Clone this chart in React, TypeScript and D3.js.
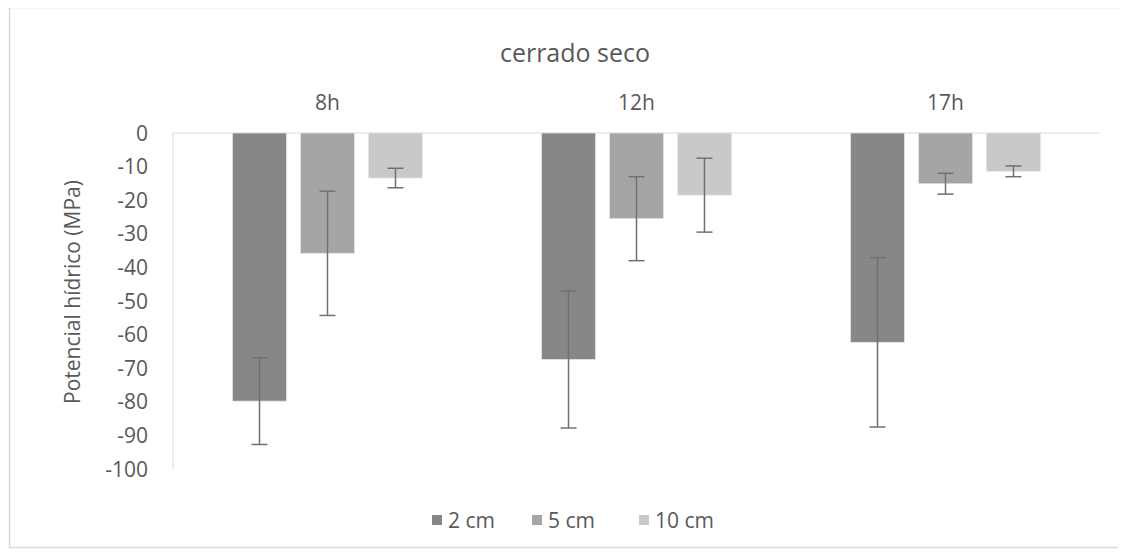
import * as d3 from "d3";
import React, { useEffect, useRef } from 'react';

// data
const categories = ["8h", "12h", "17h"];
const series = ["2 cm", "5 cm", "10 cm"];
const values2cm = [-79.8, -67.4, -62.3];
const values5cm = [-35.8, -25.5, -15.1];
const values10cm = [-13.4, -18.5, -11.4];
const err2cm = [12.9, 20.4, 25.2];
const err5cm = [18.5, 12.5, 3.1];
const err10cm = [2.9, 11.0, 1.6];
const yTicks = [0, -10, -20, -30, -40, -50, -60, -70, -80, -90, -100];
const colors = ["#878787", "#a5a5a5", "#c9c9c9"];

const WIDTH = 1126;
const HEIGHT = 552;
const FONT = "'Open Sans', sans-serif";

export default function App() {
  const svgRef = useRef<SVGSVGElement | null>(null);

  useEffect(() => {
    if (!svgRef.current) return;
    const svg = d3.select(svgRef.current);
    svg.selectAll("*").remove();

    const margin = { top: 133, right: 26, bottom: 83, left: 173 };
    const innerW = WIDTH - margin.left - margin.right;

    const seriesValues = [values2cm, values5cm, values10cm];
    const seriesErr = [err2cm, err5cm, err10cm];

    const x0 = d3.scaleBand<string>()
      .domain(categories)
      .range([margin.left, margin.left + innerW])
      .paddingInner(0.34)
      .paddingOuter(0.17);

    const x1 = d3.scaleBand<string>()
      .domain(series)
      .range([0, x0.bandwidth()])
      .paddingInner(0.206)
      .paddingOuter(0.103);

    const y = d3.scaleLinear()
      .domain([0, -100])
      .range([margin.top, HEIGHT - margin.bottom]);

    // outer border
    svg.append('rect')
      .attr('x', 9.5).attr('y', 7.5)
      .attr('width', WIDTH - 14).attr('height', HEIGHT - 12)
      .attr('fill', '#fff')
      .attr('stroke', '#d9d9d9')
      .attr('stroke-width', 1.5);

    // title
    svg.append('text')
      .attr('x', 575).attr('y', 62)
      .attr('text-anchor', 'middle')
      .style('font-family', FONT)
      .style('font-size', '25px')
      .attr('fill', '#595959')
      .text('cerrado seco');

    // category labels (at the top)
    svg.append('g')
      .selectAll('text')
      .data(categories)
      .join('text')
      .attr('x', d => x0(d)! + x0.bandwidth() / 2)
      .attr('y', 110)
      .attr('text-anchor', 'middle')
      .style('font-family', FONT)
      .style('font-size', '21px')
      .attr('fill', '#595959')
      .text(d => d);

    // zero line + y axis line
    svg.append('line')
      .attr('x1', margin.left).attr('x2', margin.left + innerW)
      .attr('y1', y(0)).attr('y2', y(0))
      .attr('stroke', '#d9d9d9').attr('stroke-width', 1);
    svg.append('line')
      .attr('x1', margin.left).attr('x2', margin.left)
      .attr('y1', y(0)).attr('y2', y(-100))
      .attr('stroke', '#d9d9d9').attr('stroke-width', 1);

    // y tick labels
    svg.append('g')
      .selectAll('text')
      .data(yTicks)
      .join('text')
      .attr('x', 148)
      .attr('y', d => y(d))
      .attr('dy', '0.36em')
      .attr('text-anchor', 'end')
      .style('font-family', FONT)
      .style('font-size', '21px')
      .attr('fill', '#595959')
      .text(d => String(d));

    // y axis title
    svg.append('text')
      .attr('transform', `translate(80, 292) rotate(-90)`)
      .attr('text-anchor', 'middle')
      .style('font-family', FONT)
      .style('font-size', '21px')
      .attr('fill', '#595959')
      .text('Potencial hídrico (MPa)');

    // bars
    const groups = svg.append('g')
      .selectAll('g')
      .data(categories)
      .join('g')
      .attr('transform', d => `translate(${x0(d)}, 0)`);

    groups.selectAll('rect')
      .data((_, i) => series.map((s, j) => ({ s, j, v: seriesValues[j][i] })))
      .join('rect')
      .attr('x', d => x1(d.s)!)
      .attr('y', y(0))
      .attr('width', x1.bandwidth())
      .attr('height', d => y(d.v) - y(0))
      .attr('fill', d => colors[d.j])
      .attr('stroke', '#e6e6e6')
      .attr('stroke-width', 0.75);

    // error bars
    const errData = categories.flatMap((c, i) =>
      series.map((s, j) => ({ c, s, v: seriesValues[j][i], e: seriesErr[j][i] })));

    const eb = svg.append('g')
      .selectAll('g')
      .data(errData)
      .join('g')
      .attr('transform', d => `translate(${x0(d.c)! + x1(d.s)! + x1.bandwidth() / 2}, 0)`)
      .attr('stroke', '#707070')
      .attr('stroke-width', 1.5);

    eb.append('line')
      .attr('x1', 0).attr('x2', 0)
      .attr('y1', d => y(d.v + d.e)).attr('y2', d => y(d.v - d.e));
    eb.append('line')
      .attr('x1', -8).attr('x2', 8)
      .attr('y1', d => y(d.v + d.e)).attr('y2', d => y(d.v + d.e));
    eb.append('line')
      .attr('x1', -8).attr('x2', 8)
      .attr('y1', d => y(d.v - d.e)).attr('y2', d => y(d.v - d.e));

    // legend
    const legendX = [432, 532, 639];
    const legend = svg.append('g')
      .selectAll('g')
      .data(series)
      .join('g')
      .attr('transform', (_, i) => `translate(${legendX[i]}, 520)`);

    legend.append('rect')
      .attr('x', 0).attr('y', -5)
      .attr('width', 10).attr('height', 10)
      .attr('fill', (_, i) => colors[i]);

    legend.append('text')
      .attr('x', 16)
      .attr('y', 0)
      .attr('dy', '0.36em')
      .style('font-family', FONT)
      .style('font-size', '21px')
      .attr('fill', '#595959')
      .text(d => d);
  }, []);

  return (
    <svg ref={svgRef} width={WIDTH} height={HEIGHT} style={{ display: 'block', marginTop: -8, marginLeft: -8 }}></svg>
  );
}
